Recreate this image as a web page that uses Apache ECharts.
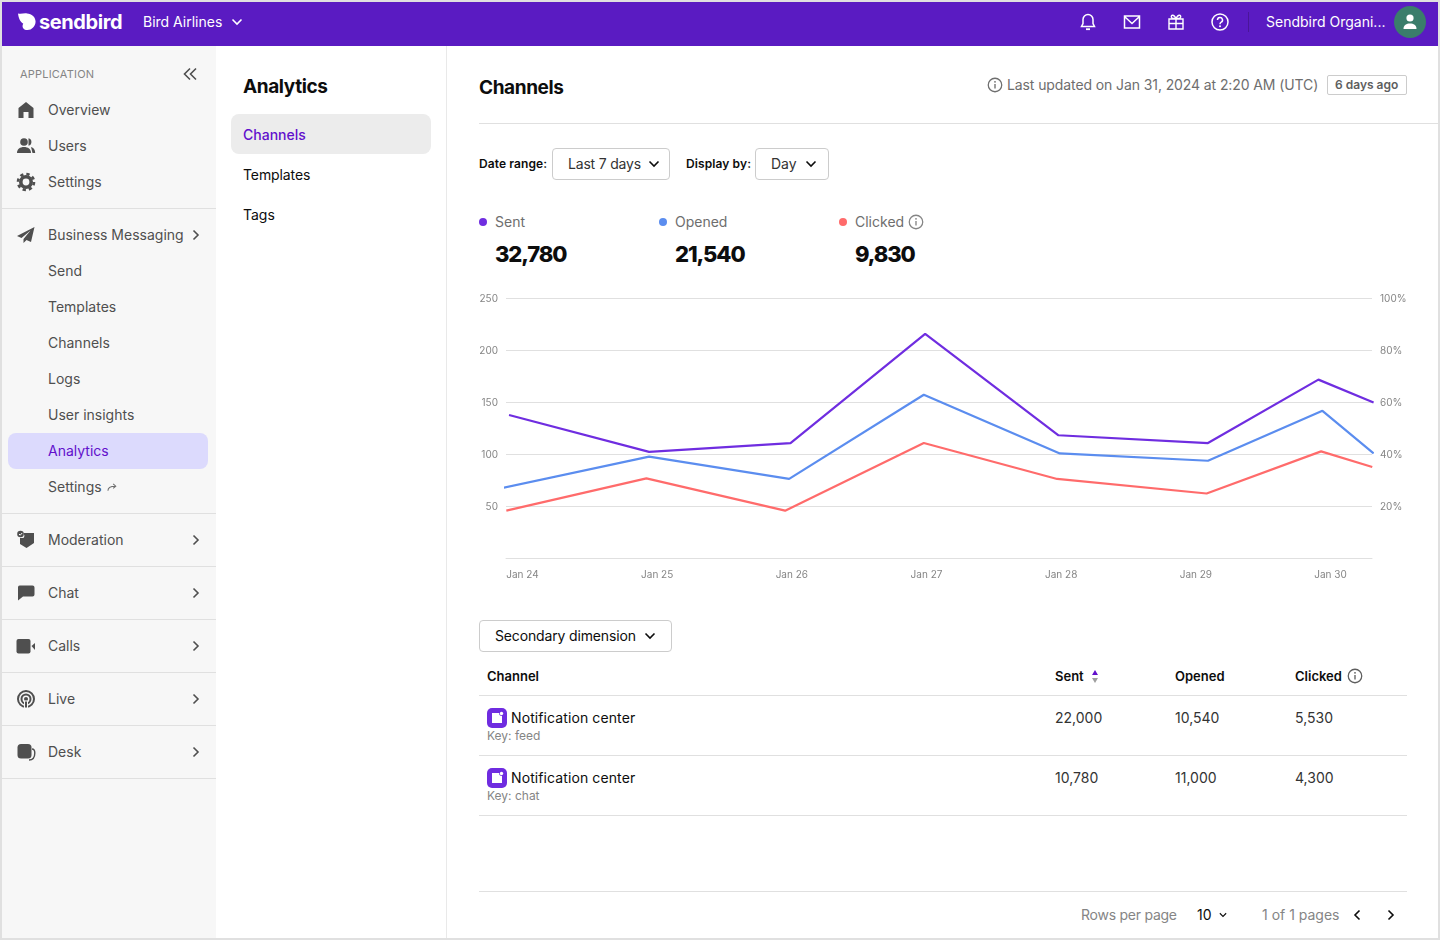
<!DOCTYPE html>
<html>
<head>
<meta charset="utf-8">
<title>Channels analytics</title>
<script src="https://cdn.jsdelivr.net/npm/echarts@6/dist/echarts.min.js"></script>
<style>
  * { box-sizing: border-box; }
  html, body { margin: 0; padding: 0; width: 1440px; height: 940px; overflow: hidden; }
  body { background: #e0e0e0; font-family: Inter, "Noto Sans", sans-serif; font-size: 14px; color: #0d0d0d; position: relative; }
  .abs, .t, .ic { position: absolute; }
  .t { white-space: nowrap; line-height: 20px; margin-top: -10px; }
  .ic { width: 20px; height: 20px; margin: -10px 0 0 -10px; }
  .inf { width: 18px; height: 18px; margin: -9px 0 0 -9px; }
  .app { position: absolute; left: 2px; top: 2px; width: 1436px; height: 936px; background: #fff; }
  .top { position: absolute; left: 2px; top: 2px; width: 1436px; height: 44px; background: #5a1bc2; }
  .side { position: absolute; left: 2px; top: 46px; width: 214px; height: 892px; background: #f7f7f7; }
  .mid { position: absolute; left: 446px; top: 46px; width: 1px; height: 892px; background: #e9e9e9; }
  .sep { position: absolute; height: 1px; background: #e0e0e0; }
  .nav { left: 48px; color: #4f4f4f; }
  .head { font-size: 19px; font-weight: 700; letter-spacing: -0.4px; color: #0d0d0d; }
  .white { color: #fff; }
  .grey { color: #6e6e6e; }
  .lab { font-size: 12px; font-weight: 600; letter-spacing: 0.1px; }
  .box { position: absolute; border: 1px solid #cccccc; border-radius: 4px; background: #fff; }
  .dot { position: absolute; width: 8px; height: 8px; border-radius: 50%; margin: -4px 0 0 -4px; }
  .num { font-size: 22px; font-weight: 800; letter-spacing: -1.1px; line-height: 30px; margin-top: -15px; }
  .th { font-size: 13px; font-weight: 600; }
  .key { font-size: 12px; color: #858585; }
  #chart { position: absolute; left: 479px; top: 285px; width: 928px; height: 305px; }
</style>
</head>
<body>
<svg width="0" height="0" style="position:absolute">
  <defs>
    <symbol id="down" viewBox="0 0 20 20"><path d="M5.5 7.5l4.500 4.500 4.500-4.500" fill="none" stroke="currentColor" stroke-width="1.600"/></symbol>
    <symbol id="right" viewBox="0 0 20 20"><path d="M7.500 5.500l4.500 4.500-4.500 4.500" fill="none" stroke="currentColor" stroke-width="1.600"/></symbol>
    <symbol id="left" viewBox="0 0 20 20"><path d="M12.500 5.500l-4.500 4.500 4.500 4.500" fill="none" stroke="currentColor" stroke-width="1.600"/></symbol>
    <symbol id="dleft" viewBox="0 0 20 20"><path d="M10 4.500l-5.500 5.500 5.500 5.500M16 4.500l-5.500 5.500 5.500 5.500" fill="none" stroke="currentColor" stroke-width="1.600"/></symbol>
    <symbol id="home" viewBox="0 0 20 20"><path d="M10 2L2.500 8v10h5v-6h5v6h5V8z" fill="currentColor"/></symbol>
    <symbol id="users" viewBox="0 0 20 20"><circle cx="8" cy="6" r="3.800" fill="currentColor"/><path d="M1 17c0-4 3-6 7-6s7 2 7 6z" fill="currentColor"/><path d="M12.500 2.300a3.800 3.800 0 0 1 0 7.400M15 11c2.600.5 4.200 2.600 4.200 6H16.500" fill="currentColor"/></symbol>
    <symbol id="gear" viewBox="0 0 20 20"><circle cx="10" cy="10" r="5.200" fill="none" stroke="currentColor" stroke-width="3.600"/><circle cx="10" cy="10" r="8" fill="none" stroke="currentColor" stroke-width="2.600" stroke-dasharray="3.300 3"/></symbol>
    <symbol id="plane" viewBox="0 0 20 20"><path d="M18.500 2L1 11l4.500 2 9-7.500-7 8.500v4l3-3 4.500 2z" fill="currentColor"/></symbol>
    <symbol id="shield" viewBox="0 0 20 20"><path d="M3 3h15v10l-7.500 5L4 14V8h3.500a4.500 4.500 0 0 0 0-5z" fill="currentColor"/><circle cx="4.500" cy="4" r="3.300" fill="currentColor"/><path d="M3 4l1.200 1.200L6.200 3" fill="none" stroke="#fff" stroke-width="1"/></symbol>
    <symbol id="chat" viewBox="0 0 20 20"><path d="M4.500 2.500h12a2 2 0 0 1 2 2v7a2 2 0 0 1-2 2H7l-5 4V4.500a2 2 0 0 1 2.500-2z" fill="currentColor"/></symbol>
    <symbol id="calls" viewBox="0 0 20 20"><rect x="0.500" y="3" width="14" height="14.500" rx="2" fill="currentColor"/><path d="M15.500 10l3.500-3v7z" fill="currentColor"/></symbol>
    <symbol id="live" viewBox="0 0 20 20"><circle cx="10" cy="10" r="8" fill="none" stroke="currentColor" stroke-width="2"/><circle cx="10" cy="10" r="4.500" fill="none" stroke="currentColor" stroke-width="2"/><circle cx="10" cy="10" r="2" fill="currentColor"/><path d="M8.500 12h3v7h-3z" fill="currentColor" stroke="#f7f7f7" stroke-width="1"/></symbol>
    <symbol id="desk" viewBox="0 0 20 20"><rect x="1.500" y="2" width="14" height="14.500" rx="3.500" fill="currentColor"/><path d="M16 7c2.500 0 2.800 1.500 2.800 4 0 4-1.500 7-5.800 7" fill="none" stroke="currentColor" stroke-width="1.400"/></symbol>
    <symbol id="bell" viewBox="0 0 20 20"><path d="M10 2.500a5 5 0 0 0-5 5v4L3.500 14.500h13L15 11.500v-4a5 5 0 0 0-5-5z" fill="none" stroke="currentColor" stroke-width="1.500"/><path d="M8 17.200h4" stroke="currentColor" stroke-width="1.800"/></symbol>
    <symbol id="mail" viewBox="0 0 20 20"><path d="M2.500 4h15v12h-15z M2.500 4.500l7.500 7 7.500-7" fill="none" stroke="currentColor" stroke-width="1.500"/></symbol>
    <symbol id="gift" viewBox="0 0 20 20"><path d="M3 7h14v10H3z M3 11.500h14 M10 7v10 M10 6.500C8 2 4.500 2.500 5.500 5.500 6 6.500 8 6.500 10 6.500c2 0 4 0 4.500-1 1-3-2.500-3.500-4.500 1" fill="none" stroke="currentColor" stroke-width="1.400"/></symbol>
    <symbol id="help" viewBox="0 0 20 20"><circle cx="10" cy="10" r="8" fill="none" stroke="currentColor" stroke-width="1.500"/><path d="M7.500 8a2.500 2.500 0 1 1 3.700 2.200c-.8.500-1.200 1-1.200 2" fill="none" stroke="currentColor" stroke-width="1.500"/><circle cx="10" cy="14.300" r="1" fill="currentColor"/></symbol>
    <symbol id="info" viewBox="0 0 20 20"><circle cx="10" cy="10" r="7.500" fill="none" stroke="currentColor" stroke-width="1.400"/><path d="M10 9v5" stroke="currentColor" stroke-width="1.500"/><circle cx="10" cy="6.500" r="1" fill="currentColor"/></symbol>
    <symbol id="person" viewBox="0 0 20 20"><circle cx="10" cy="6" r="3.600" fill="currentColor"/><path d="M3.500 17c0-4 3-5.500 6.500-5.500s6.500 1.500 6.500 5.500z" fill="currentColor"/></symbol>
    <symbol id="logo" viewBox="0 0 20 20"><path d="M0 1.500c3 1 6-.5 9.500 0 5 .5 9 3.500 9 8.500s-4 9-8.500 9C6 19 3.500 16 5.500 12 2.500 11 .5 6 0 1.500z" fill="currentColor"/></symbol>
    <symbol id="fwd" viewBox="0 0 20 20"><path d="M3 15c0-5 3-7 11-7M11 4.500l4 3.500-4 3.500" fill="none" stroke="currentColor" stroke-width="1.600"/></symbol>
    <symbol id="badge" viewBox="0 0 20 20"><rect width="20" height="20" rx="5" fill="#6f2ce0"/><path d="M5 5h7a3 3 0 0 0 3 3v7H5z" fill="#fff"/><circle cx="14.500" cy="5.500" r="1.700" fill="#fff"/></symbol>
  </defs>
</svg>

<div class="app"></div>
<div class="top"></div>
<div class="side"></div>
<div class="mid"></div>

<!-- top bar -->
<svg class="ic white" style="left:27px;top:22px;width:19px;height:19px;margin:-10px 0 0 -9px"><use href="#logo"/></svg>
<div class="t white" style="left:39px;top:22px;font-size:20px;font-weight:700;letter-spacing:-0.4px">sendbird</div>
<div class="t white" style="left:143px;top:22px">Bird Airlines</div>
<svg class="ic white" style="left:237px;top:22px"><use href="#down"/></svg>
<svg class="ic white" style="left:1088px;top:22px"><use href="#bell"/></svg>
<svg class="ic white" style="left:1132px;top:22px"><use href="#mail"/></svg>
<svg class="ic white" style="left:1176px;top:22px"><use href="#gift"/></svg>
<svg class="ic white" style="left:1220px;top:22px"><use href="#help"/></svg>
<div class="abs" style="left:1248px;top:12px;width:1px;height:20px;background:#4a1599"></div>
<div class="t white" style="left:1266px;top:22px">Sendbird Organi...</div>
<div class="abs" style="left:1394px;top:6px;width:32px;height:32px;border-radius:50%;background:#3a7d6b"></div>
<svg class="ic white" style="left:1410px;top:22px"><use href="#person"/></svg>

<!-- sidebar -->
<div class="t" style="left:20px;top:74px;font-size:11px;color:#858585;letter-spacing:0.2px">APPLICATION</div>
<svg class="ic" style="left:190px;top:74px;color:#4f4f4f"><use href="#dleft"/></svg>
<svg class="ic" style="left:26px;top:110px;color:#4f4f4f"><use href="#home"/></svg>
<div class="t nav" style="top:110px">Overview</div>
<svg class="ic" style="left:26px;top:146px;color:#4f4f4f"><use href="#users"/></svg>
<div class="t nav" style="top:146px">Users</div>
<svg class="ic" style="left:26px;top:182px;color:#4f4f4f"><use href="#gear"/></svg>
<div class="t nav" style="top:182px">Settings</div>
<div class="sep" style="left:2px;top:208px;width:214px"></div>
<svg class="ic" style="left:26px;top:235px;color:#4f4f4f"><use href="#plane"/></svg>
<div class="t nav" style="top:235px">Business Messaging</div>
<svg class="ic" style="left:196px;top:235px;color:#4f4f4f"><use href="#right"/></svg>
<div class="t nav" style="top:271px">Send</div>
<div class="t nav" style="top:307px">Templates</div>
<div class="t nav" style="top:343px">Channels</div>
<div class="t nav" style="top:379px">Logs</div>
<div class="t nav" style="top:415px">User insights</div>
<div class="abs" style="left:8px;top:433px;width:200px;height:36px;border-radius:8px;background:#dcdafd"></div>
<div class="t nav" style="top:451px;color:#6210cc">Analytics</div>
<div class="t nav" style="top:487px">Settings</div>
<svg class="ic" style="left:112px;top:487px;width:13px;height:13px;margin:-6px 0 0 -6px;color:#6e6e6e"><use href="#fwd"/></svg>
<div class="sep" style="left:2px;top:513px;width:214px"></div>
<svg class="ic" style="left:26px;top:540px;color:#4f4f4f"><use href="#shield"/></svg>
<div class="t nav" style="top:540px">Moderation</div>
<svg class="ic" style="left:196px;top:540px;color:#4f4f4f"><use href="#right"/></svg>
<div class="sep" style="left:2px;top:566px;width:214px"></div>
<svg class="ic" style="left:26px;top:593px;color:#4f4f4f"><use href="#chat"/></svg>
<div class="t nav" style="top:593px">Chat</div>
<svg class="ic" style="left:196px;top:593px;color:#4f4f4f"><use href="#right"/></svg>
<div class="sep" style="left:2px;top:619px;width:214px"></div>
<svg class="ic" style="left:26px;top:646px;color:#4f4f4f"><use href="#calls"/></svg>
<div class="t nav" style="top:646px">Calls</div>
<svg class="ic" style="left:196px;top:646px;color:#4f4f4f"><use href="#right"/></svg>
<div class="sep" style="left:2px;top:672px;width:214px"></div>
<svg class="ic" style="left:26px;top:699px;color:#4f4f4f"><use href="#live"/></svg>
<div class="t nav" style="top:699px">Live</div>
<svg class="ic" style="left:196px;top:699px;color:#4f4f4f"><use href="#right"/></svg>
<div class="sep" style="left:2px;top:725px;width:214px"></div>
<svg class="ic" style="left:26px;top:752px;color:#4f4f4f"><use href="#desk"/></svg>
<div class="t nav" style="top:752px">Desk</div>
<svg class="ic" style="left:196px;top:752px;color:#4f4f4f"><use href="#right"/></svg>
<div class="sep" style="left:2px;top:778px;width:214px"></div>

<!-- secondary menu -->
<div class="t head" style="left:243px;top:87px">Analytics</div>
<div class="abs" style="left:231px;top:114px;width:200px;height:40px;border-radius:8px;background:#ececec"></div>
<div class="t" style="left:243px;top:135px;color:#6210cc;font-weight:500">Channels</div>
<div class="t" style="left:243px;top:175px;letter-spacing:-0.1px">Templates</div>
<div class="t" style="left:243px;top:215px">Tags</div>

<!-- page header -->
<div class="t head" style="left:479px;top:88px">Channels</div>
<svg class="ic inf grey" style="left:995px;top:85px"><use href="#info"/></svg>
<div class="t grey" style="left:1007px;top:85px;letter-spacing:-0.1px">Last updated on Jan 31, 2024 at 2:20 AM (UTC)</div>
<div class="box" style="left:1327px;top:75px;width:80px;height:20px;border-radius:2px"></div>
<div class="t" style="left:1335px;top:85px;font-size:12px;font-weight:600;color:#5e5e5e">6 days ago</div>
<div class="sep" style="left:479px;top:123px;width:959px"></div>

<!-- filters -->
<div class="t lab" style="left:479px;top:164px">Date range:</div>
<div class="box" style="left:552px;top:148px;width:118px;height:32px"></div>
<div class="t" style="left:568px;top:164px;color:#333;letter-spacing:-0.2px">Last 7 days</div>
<svg class="ic" style="left:654px;top:164px"><use href="#down"/></svg>
<div class="t lab" style="left:686px;top:164px">Display by:</div>
<div class="box" style="left:755px;top:148px;width:74px;height:32px"></div>
<div class="t" style="left:771px;top:164px;color:#333">Day</div>
<svg class="ic" style="left:811px;top:164px"><use href="#down"/></svg>

<!-- totals, filled in from the arrays -->
<div id="totals"></div>
<svg class="ic inf" style="left:916px;top:222px;color:#858585"><use href="#info"/></svg>

<div id="chart"></div>

<!-- table -->
<div class="box" style="left:479px;top:620px;width:193px;height:32px"></div>
<div class="t" style="left:495px;top:636px;letter-spacing:-0.15px">Secondary dimension</div>
<svg class="ic" style="left:650px;top:636px"><use href="#down"/></svg>
<div class="t th" style="left:487px;top:676px">Channel</div>
<div class="t th" style="left:1055px;top:676px">Sent</div>
<div class="abs" style="left:1091.500px;top:670px;border:3.500px solid transparent;border-top:0;border-bottom:5px solid #6210cc"></div>
<div class="abs" style="left:1091.500px;top:678px;border:3.500px solid transparent;border-bottom:0;border-top:5px solid #9e9e9e"></div>
<div class="t th" style="left:1175px;top:676px">Opened</div>
<div class="t th" style="left:1295px;top:676px">Clicked</div>
<svg class="ic inf" style="left:1355px;top:676px;color:#5e5e5e"><use href="#info"/></svg>
<div class="sep" style="left:479px;top:695px;width:928px"></div>
<div id="rows"></div>
<div class="sep" style="left:479px;top:891px;width:928px"></div>
<div class="t" style="left:1081px;top:915px;color:#858585;letter-spacing:-0.25px">Rows per page</div>
<div class="t" style="left:1197px;top:915px">10</div>
<svg class="ic" style="left:1223px;top:915px;width:14px;height:14px;margin:-7px 0 0 -7px"><use href="#down"/></svg>
<div class="t" style="left:1262px;top:915px;color:#858585">1 of 1 pages</div>
<svg class="ic" style="left:1357px;top:915px"><use href="#left"/></svg>
<svg class="ic" style="left:1391px;top:915px"><use href="#right"/></svg>

<script>
// Chart values. x is the day of January
const dayTicks = [24, 25, 26, 27, 28, 29, 30];
const sentDays = [23.9, 24.94, 25.99, 26.99, 27.98, 29.09, 29.91, 30.32];
const sentValues = [138, 102.5, 111, 216, 118.5, 111, 172, 150];
const openedDays = [23.86, 24.94, 25.98, 26.98, 27.99, 29.09, 29.94, 30.32];
const openedValues = [68, 98, 76.5, 157.5, 101, 94, 142, 101];
const clickedDays = [23.88, 24.92, 25.95, 26.98, 27.97, 29.08, 29.93, 30.31];
const clickedValues = [46, 77, 46, 111, 76.5, 62.5, 103, 88];

// Totals above the chart
const totalNames = ['Sent', 'Opened', 'Clicked'];
const totalValues = ['32,780', '21,540', '9,830'];

// Table rows
const channelNames = ['Notification center', 'Notification center'];
const channelKeys = ['Key: feed', 'Key: chat'];
const channelSent = ['22,000', '10,780'];
const channelOpened = ['10,540', '11,000'];
const channelClicked = ['5,530', '4,300'];

const colors = ['#6f2de0', '#5b8def', '#ff6b6b'];

document.getElementById('totals').innerHTML = totalNames.map(function (name, i) {
  const x = 479 + i * 180;
  return '<div class="dot" style="left:' + (x + 4) + 'px;top:222px;background:' + colors[i] + '"></div>' +
    '<div class="t grey" style="left:' + (x + 16) + 'px;top:222px">' + name + '</div>' +
    '<div class="t num" style="left:' + (x + 16) + 'px;top:254px">' + totalValues[i] + '</div>';
}).join('');

document.getElementById('rows').innerHTML = channelNames.map(function (name, i) {
  const y = 718 + i * 60;
  return '<svg class="ic" style="left:497px;top:' + y + 'px"><use href="#badge"/></svg>' +
    '<div class="t" style="left:511px;top:' + y + 'px;letter-spacing:0.1px">' + name + '</div>' +
    '<div class="t key" style="left:487px;top:' + (y + 18) + 'px">' + channelKeys[i] + '</div>' +
    '<div class="t" style="left:1055px;top:' + y + 'px;color:#333">' + channelSent[i] + '</div>' +
    '<div class="t" style="left:1175px;top:' + y + 'px;color:#333">' + channelOpened[i] + '</div>' +
    '<div class="t" style="left:1295px;top:' + y + 'px;color:#333">' + channelClicked[i] + '</div>' +
    '<div class="sep" style="left:479px;top:' + (y + 37) + 'px;width:928px"></div>';
}).join('');

function pairs(days, values) {
  return days.map(function (d, i) { return [d, values[i]]; });
}

function lineSeries(name, days, values, color) {
  return {
    name: name,
    type: 'line',
    data: pairs(days, values),
    symbol: 'none',
    clip: false,
    lineStyle: { width: 2.2, color: color },
    itemStyle: { color: color }
  };
}

const labelStyle = { color: '#858585', fontSize: 10, fontFamily: 'Inter' };

const chart = echarts.init(document.getElementById('chart'));
chart.setOption({
  animation: false,
  textStyle: { fontFamily: 'Inter' },
  grid: { left: 27, right: 35, top: 13.5, height: 260, outerBoundsMode: 'none' },
  xAxis: {
    type: 'value',
    min: 23.8775,
    max: 30.308,
    axisLine: { show: true, lineStyle: { color: '#e0e0e0' } },
    axisTick: { show: false },
    splitLine: { show: false },
    axisLabel: Object.assign({
      margin: 11,
      customValues: dayTicks,
      formatter: function (v) { return 'Jan ' + v; }
    }, labelStyle)
  },
  yAxis: [
    {
      type: 'value',
      min: 0,
      max: 250,
      interval: 50,
      axisLine: { show: false },
      axisTick: { show: false },
      splitLine: { lineStyle: { color: '#e0e0e0' } },
      axisLabel: Object.assign({
        margin: 8,
        formatter: function (v) { return v === 0 ? '' : String(v); }
      }, labelStyle)
    },
    {
      type: 'value',
      min: 0,
      max: 100,
      interval: 20,
      position: 'right',
      axisLine: { show: false },
      axisTick: { show: false },
      splitLine: { show: false },
      axisLabel: Object.assign({
        margin: 8,
        formatter: function (v) { return v === 0 ? '' : v + '%'; }
      }, labelStyle)
    }
  ],
  series: [
    lineSeries('Clicked', clickedDays, clickedValues, colors[2]),
    lineSeries('Opened', openedDays, openedValues, colors[1]),
    lineSeries('Sent', sentDays, sentValues, colors[0])
  ]
});
</script>
</body>
</html>
